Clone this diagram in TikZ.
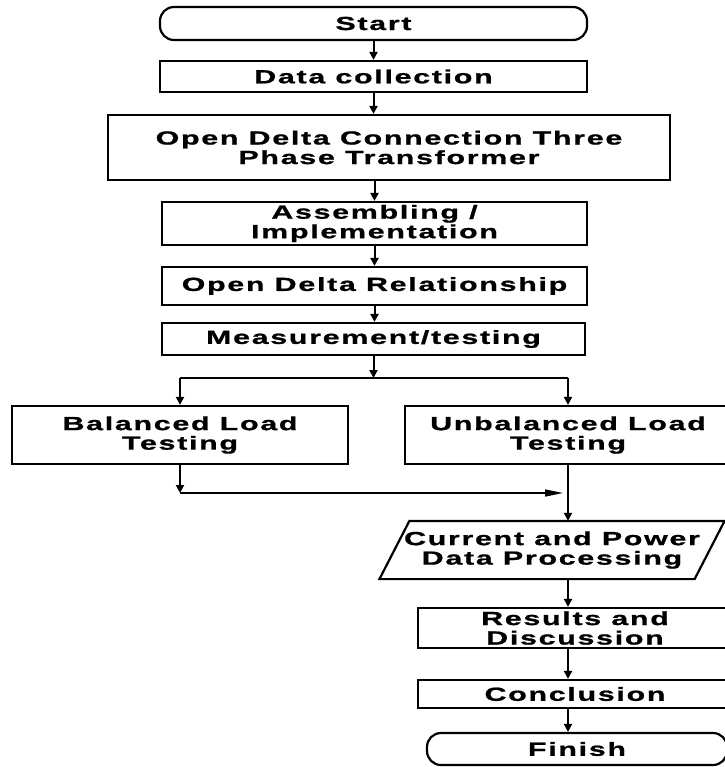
\documentclass[tikz,border=0pt]{standalone}
\usepackage{fontspec}
\newfontfamily\flowfont{Liberation Sans}[FakeStretch=1.6,LetterSpace=9,
  BoldFeatures={FakeStretch=1.6,LetterSpace=9,FakeBold=1}]
\usetikzlibrary{arrows.meta}
\tikzset{
  box/.style={draw, line width=2.2pt, inner sep=0pt, align=center,
    font=\flowfont\bfseries\fontsize{19}{19.5}\selectfont},
  term/.style={box, rounded corners=14pt},
  arr/.style={line width=2pt, -{Triangle[length=8pt,width=8pt]}},
  ln/.style={line width=2pt},
  longarr/.style={line width=1.5pt, -{Triangle[length=18pt,width=7pt]}}
}
\begin{document}
\begin{tikzpicture}[x=1pt,y=-1pt]
\useasboundingbox (0,0) rectangle (724,767);
\node[term, minimum width=427pt, minimum height=33pt] (start) at (373.5,23.5) {Start};
\node[box, minimum width=427pt, minimum height=31pt] (data) at (373.5,76.5) {Data collection};
\node[box, minimum width=562pt, minimum height=65pt] (odc) at (389,147.5) {Open Delta Connection Three\\Phase Transformer};
\node[box, minimum width=425pt, minimum height=43pt] (asm) at (374.5,223.5) {Assembling /\\Implementation};
\node[box, minimum width=425pt, minimum height=38pt] (odr) at (374.5,286) {Open Delta Relationship};
\node[box, minimum width=423pt, minimum height=32pt] (meas) at (373.5,339) {Measurement/testing};
\node[box, minimum width=336pt, minimum height=58pt] (bal) at (180,435) {Balanced Load\\Testing};
\node[box, minimum width=326pt, minimum height=58pt] (unb) at (568,435) {Unbalanced Load\\Testing};
\node[box, draw=none, minimum width=313pt, minimum height=56pt] (proc) at (552,550) {Current and Power\\Data Processing};
\draw[line width=2.2pt] ([xshift=15pt]proc.north west) -- ([xshift=15pt]proc.north east)
  -- ([xshift=-15pt]proc.south east) -- ([xshift=-15pt]proc.south west) -- cycle;
\node[box, minimum width=314pt, minimum height=40pt] (res) at (575,628) {Results and\\Discussion};
\node[box, minimum width=314pt, minimum height=28pt] (conc) at (575,694) {Conclusion};
\node[term, minimum width=300pt, minimum height=32pt] (fin) at (577,749) {Finish};
\coordinate (br) at (373.5,378);
\coordinate (brl) at (180,378);
\coordinate (brr) at (568,378);
\coordinate (mg) at (180,493);
\coordinate (mgr) at (563,493);
\coordinate (col) at (568,0);
\draw[arr] (start.south) -- (data.north);
\draw[arr] (data.south) -- (data.south |- odc.north);
\draw[arr] (asm.north |- odc.south) -- (asm.north);
\draw[arr] (asm.south) -- (odr.north);
\draw[arr] (odr.south) -- (odr.south |- meas.north);
\draw[arr] (meas.south) -- (br);
\draw[ln] (brl) -- (brr);
\draw[arr] (brl) -- (bal.north);
\draw[arr] (brr) -- (unb.north);
\draw[arr] (bal.south) -- (mg);
\draw[longarr] (mg) -- (mgr);
\draw[arr] (unb.south) -- (unb.south |- proc.north);
\draw[arr] (col |- proc.south) -- (col |- res.north);
\draw[arr] (col |- res.south) -- (col |- conc.north);
\draw[arr] (col |- conc.south) -- (col |- fin.north);
\end{tikzpicture}
\end{document}
